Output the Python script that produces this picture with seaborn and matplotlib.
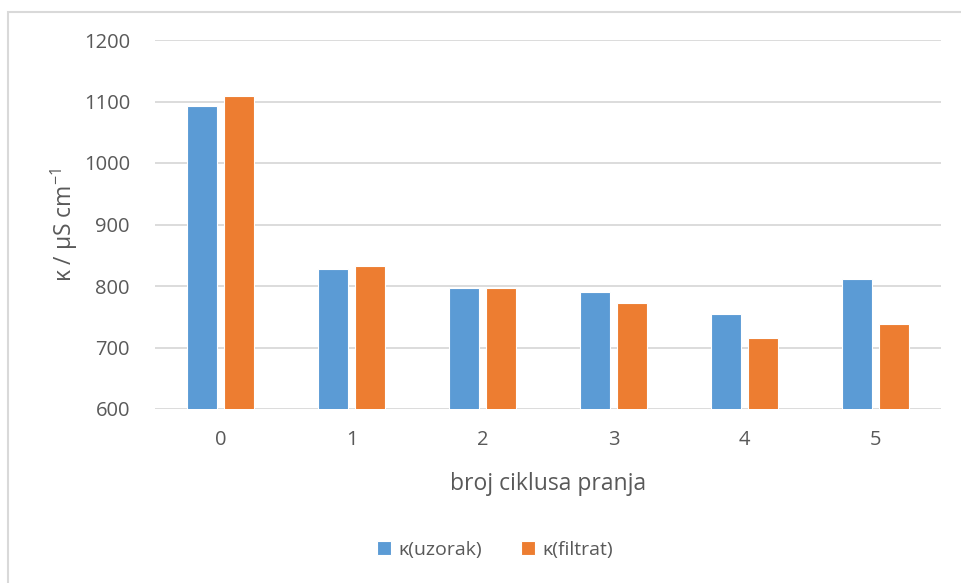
import numpy as np
import pandas as pd
import matplotlib.pyplot as plt
import seaborn as sns
from matplotlib.patches import Rectangle

# ── data ────────────────────────────────────────────────────
cycles = ["0", "1", "2", "3", "4", "5"]
kappa_uzorak = [1093, 828, 797, 790, 755, 811]
kappa_filtrat = [1109, 832, 797, 773, 715, 738]
series_names = ["κ(uzorak)", "κ(filtrat)"]
y_ticks = [600, 700, 800, 900, 1000, 1100, 1200]

df = pd.DataFrame({
    "ciklus": cycles * 2,
    "kappa": kappa_uzorak + kappa_filtrat,
    "serija": [series_names[0]] * len(cycles) + [series_names[1]] * len(cycles),
})

sns.set_theme(style="white")
plt.rcParams['font.family'] = ['Open Sans', 'DejaVu Sans']
plt.rcParams['mathtext.fontset'] = 'custom'
plt.rcParams['mathtext.rm'] = 'Open Sans'
TXT = '#595959'

fig = plt.figure(figsize=(9.62, 5.83), dpi=100)
ax = fig.add_axes([155 / 962, 1 - 409 / 583, (941 - 155) / 962, (409 - 40) / 583])

sns.barplot(data=df, x="ciklus", y="kappa", hue="serija",
            palette=['#5B9BD5', '#ED7D31'], saturation=1,
            width=0.565, gap=0.19,
            edgecolor='white', linewidth=0.8, ax=ax, zorder=3)

ax.set_ylim(600, 1200)
ax.set_xlim(-0.5, 5.5)
ax.set_yticks(y_ticks)
ax.yaxis.grid(True, color='#d9d9d9', linewidth=1.3, zorder=0)
ax.set_axisbelow(True)
for s in ax.spines.values():
    s.set_visible(False)
ax.tick_params(axis='both', length=0, labelsize=14.5, labelcolor=TXT)
ax.tick_params(axis='y', pad=18)
ax.tick_params(axis='x', pad=15)

ax.set_xlabel("broj ciklusa pranja", fontsize=16.5, color=TXT, labelpad=16)
ax.set_ylabel("κ / µS cm$^{-1}$", fontsize=16.5, color=TXT, labelpad=3)

ax.legend(loc='center', bbox_to_anchor=(495 / 962, 1 - 550 / 583),
          bbox_transform=fig.transFigure, ncol=2, frameon=False,
          fontsize=14, labelcolor=TXT, handlelength=0.7, handleheight=0.7,
          columnspacing=2.0, handletextpad=0.4)

# light chart-area border like the Excel frame
fig.patches.append(Rectangle((8 / 962, -0.1), 1.2, 1 - 12 / 583 + 0.1,
                             transform=fig.transFigure, fill=False,
                             edgecolor='#d9d9d9', linewidth=1.5))

fig.savefig("out.png", dpi=100)
